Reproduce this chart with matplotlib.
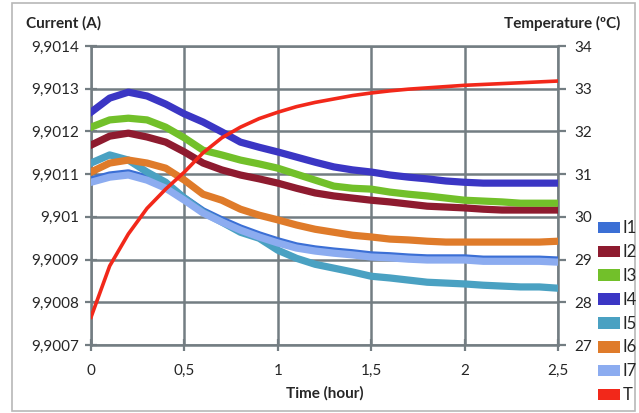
import matplotlib
matplotlib.use("Agg")
import matplotlib.pyplot as plt
from matplotlib.patches import Patch, Rectangle

# time axis (hours), read every 0.1 h
hours = [0.0, 0.1, 0.2, 0.3, 0.4, 0.5, 0.6, 0.7, 0.8, 0.9, 1.0, 1.1, 1.2,
         1.3, 1.4, 1.5, 1.6, 1.7, 1.8, 1.9, 2.0, 2.1, 2.2, 2.3, 2.4, 2.5]

# currents (A)
i1 = [9.901086, 9.901098, 9.901103, 9.901091, 9.901072, 9.901044, 9.901014,
      9.900993, 9.900974, 9.900958, 9.900944, 9.900932, 9.900925, 9.900920,
      9.900916, 9.900911, 9.900909, 9.900906, 9.900904, 9.900904, 9.900904,
      9.900901, 9.900901, 9.900901, 9.900901, 9.900899]
i2 = [9.901168, 9.901189, 9.901196, 9.901187, 9.901175, 9.901152, 9.901126,
      9.901110, 9.901098, 9.901089, 9.901079, 9.901067, 9.901056, 9.901049,
      9.901044, 9.901039, 9.901035, 9.901030, 9.901025, 9.901023, 9.901021,
      9.901018, 9.901016, 9.901016, 9.901016, 9.901016]
i3 = [9.901210, 9.901227, 9.901231, 9.901227, 9.901210, 9.901185, 9.901156,
      9.901145, 9.901133, 9.901124, 9.901114, 9.901100, 9.901086, 9.901072,
      9.901067, 9.901065, 9.901058, 9.901053, 9.901049, 9.901044, 9.901039,
      9.901037, 9.901035, 9.901032, 9.901032, 9.901032]
i4 = [9.901245, 9.901278, 9.901292, 9.901283, 9.901264, 9.901241, 9.901222,
      9.901199, 9.901175, 9.901163, 9.901152, 9.901140, 9.901128, 9.901117,
      9.901110, 9.901105, 9.901098, 9.901093, 9.901089, 9.901084, 9.901081,
      9.901079, 9.901079, 9.901079, 9.901079, 9.901079]
i5 = [9.901126, 9.901145, 9.901133, 9.901105, 9.901081, 9.901044, 9.901011,
      9.900988, 9.900964, 9.900950, 9.900922, 9.900903, 9.900889, 9.900880,
      9.900871, 9.900861, 9.900857, 9.900852, 9.900847, 9.900845, 9.900843,
      9.900840, 9.900838, 9.900836, 9.900836, 9.900833]
i6 = [9.901105, 9.901126, 9.901133, 9.901126, 9.901114, 9.901086, 9.901053,
      9.901039, 9.901018, 9.901004, 9.900993, 9.900981, 9.900971, 9.900964,
      9.900957, 9.900953, 9.900948, 9.900946, 9.900943, 9.900941, 9.900941,
      9.900941, 9.900941, 9.900941, 9.900941, 9.900943]
i7 = [9.901081, 9.901093, 9.901098, 9.901086, 9.901067, 9.901039, 9.901009,
      9.900988, 9.900969, 9.900953, 9.900939, 9.900927, 9.900920, 9.900915,
      9.900911, 9.900906, 9.900904, 9.900901, 9.900899, 9.900899, 9.900899,
      9.900896, 9.900896, 9.900896, 9.900896, 9.900894]

# temperature (degC)
temp = [27.65, 28.85, 29.6, 30.2, 30.65, 31.05, 31.5, 31.85, 32.1, 32.3,
        32.45, 32.58, 32.68, 32.76, 32.84, 32.9, 32.95, 32.99, 33.02, 33.05,
        33.08, 33.1, 33.12, 33.14, 33.16, 33.18]

labels = ["I1", "I2", "I3", "I4", "I5", "I6", "I7", "T"]
colors = ["#3b6fd5", "#8e1b2f", "#72c02a", "#3b36c4", "#4aa1c2",
          "#df7b2a", "#8cacf0", "#f2281a"]

y_ticks = [9.9007, 9.9008, 9.9009, 9.9010, 9.9011, 9.9012, 9.9013, 9.9014]
y_labels = ["9,9007", "9,9008", "9,9009", "9,901", "9,9011", "9,9012",
            "9,9013", "9,9014"]
x_ticks = [0, 0.5, 1, 1.5, 2, 2.5]
x_labels = ["0", "0,5", "1", "1,5", "2", "2,5"]
t_ticks = [27, 28, 29, 30, 31, 32, 33, 34]

plt.rcParams["font.family"] = ["Lato", "DejaVu Sans"]
grid_col = "#737d82"
txt_col = "#262626"

fig = plt.figure(figsize=(6.39, 4.13), dpi=100)
ax = fig.add_axes([0.1424, 0.1646, 0.7308, 0.724])

# outer frame of the chart
fig.patches.append(Rectangle((12 / 639, 2 / 413), 623 / 639, 408 / 413,
                             transform=fig.transFigure, fill=False,
                             edgecolor="#b8b8b8", lw=1.2))

for s, c in zip([i1, i2, i3, i4, i5, i6, i7], colors[:7]):
    ax.plot(hours, s, color=c, lw=5.2, solid_joinstyle="round", zorder=3)

ax.set_xlim(0, 2.5)
ax.set_ylim(9.9007, 9.9014)
ax.set_xticks(x_ticks)
ax.set_xticklabels(x_labels)
ax.set_yticks(y_ticks)
ax.set_yticklabels(y_labels)
ax.grid(True, color=grid_col, lw=1.8, zorder=0)
ax.set_axisbelow(True)
for sp in ax.spines.values():
    sp.set_color(grid_col)
    sp.set_linewidth(1.8)
ax.tick_params(direction="inout", length=9, width=1.6, color=grid_col,
               labelsize=11, labelcolor=txt_col, pad=4)
ax.tick_params(axis="x", pad=9)

ax2 = ax.twinx()
ax2.plot(hours, temp, color=colors[7], lw=2.6, zorder=4)
ax2.set_ylim(27, 34)
ax2.set_yticks(t_ticks)
for sp in ax2.spines.values():
    sp.set_visible(False)
ax2.tick_params(direction="out", length=6, width=1.6, color=grid_col,
                labelsize=11, labelcolor=txt_col, pad=6)

fig.text(26 / 639, 1 - 23 / 413, "Current (A)", fontsize=11,
         fontweight="bold", color=txt_col, va="center", ha="left")
fig.text(620 / 639, 1 - 23 / 413, "Temperature (\u00baC)", fontsize=11,
         fontweight="bold", color=txt_col, va="center", ha="right")
fig.text(325 / 639, 1 - 393 / 413, "Time (hour)", fontsize=11,
         fontweight="bold", color=txt_col, va="center", ha="center")

handles = [Patch(facecolor=c, edgecolor="none") for c in colors]
fig.legend(handles, labels, loc="upper left",
           bbox_to_anchor=(590 / 639, 1 - 212 / 413), frameon=False,
           fontsize=12, handlelength=1.3, handleheight=0.7,
           handletextpad=0.15, labelspacing=0.47, borderpad=0,
           labelcolor=txt_col)

fig.savefig("out.png", dpi=100)
